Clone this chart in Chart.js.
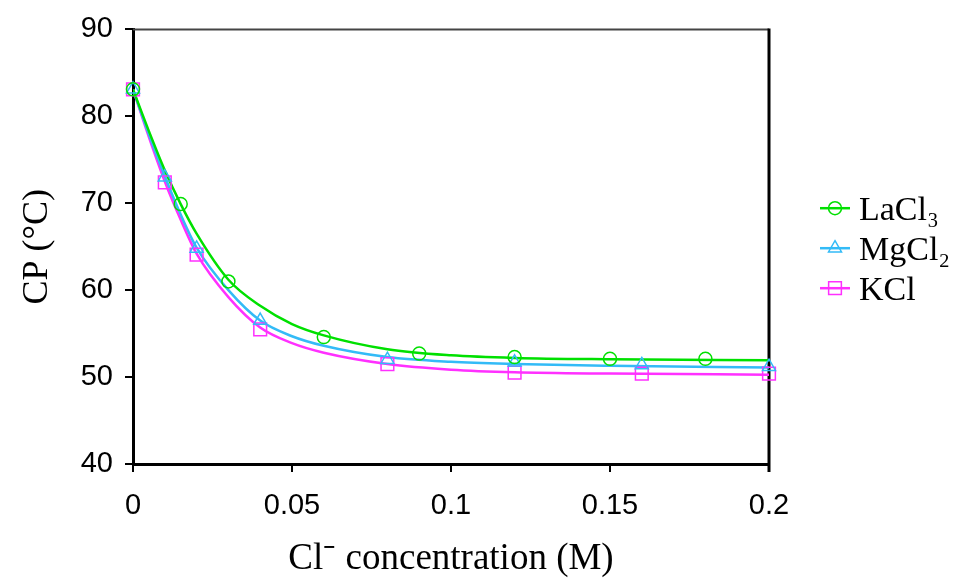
<!DOCTYPE html>
<html>
<head>
<meta charset="utf-8">
<script src="https://cdn.jsdelivr.net/npm/chart.js@4.4.1/dist/chart.umd.min.js"></script>
<style>
  html, body { margin: 0; padding: 0; background: #fff; }
</style>
</head>
<body>
<canvas id="chart" width="962" height="581"></canvas>
<script>
const SERIES_NAMES = ["LaCl₃", "MgCl₂", "KCl"];
const COLORS = ["#00e000", "#33bbf7", "#ff30ff"];
const MARKERS = ["circle", "triangle", "rect"];
const MARKER_SIZE = [6.5, 7.5, 9];

// measured points
const LACL3_X = [0, 0.015, 0.03, 0.06, 0.09, 0.12, 0.15, 0.18];
const LACL3_Y = [83.1, 69.9, 61.0, 54.6, 52.7, 52.3, 52.1, 52.1];
const MGCL2_X = [0, 0.01, 0.02, 0.04, 0.08, 0.12, 0.16, 0.2];
const MGCL2_Y = [83.1, 73.0, 64.8, 56.5, 52.0, 51.7, 51.4, 51.2];
const KCL_X = [0, 0.01, 0.02, 0.04, 0.08, 0.12, 0.16, 0.2];
const KCL_Y = [83.1, 72.4, 64.1, 55.5, 51.5, 50.5, 50.4, 50.4];

// fitted curves
const CURVE_X = [0, 0.005, 0.01, 0.015, 0.02, 0.03, 0.04, 0.05, 0.06, 0.08, 0.1, 0.12, 0.15, 0.2];
const LACL3_FIT = [83.1, 78.3, 73.8, 69.9, 66.5, 61.2, 58.2, 56.1, 54.8, 53.2, 52.5, 52.2, 52.05, 51.95];
const MGCL2_FIT = [83.1, 77.9, 73.1, 68.7, 64.9, 60.0, 56.5, 54.7, 53.6, 52.3, 51.75, 51.5, 51.3, 51.1];
const KCL_FIT = [83.1, 77.6, 72.5, 68.1, 64.2, 59.2, 55.7, 53.9, 52.8, 51.5, 50.85, 50.55, 50.4, 50.28];

const X_TICKS = [0, 0.05, 0.1, 0.15, 0.2];
const Y_TICKS = [40, 50, 60, 70, 80, 90];

const toPts = (xs, ys) => xs.map((x, i) => ({ x: x, y: ys[i] }));

const pointSets = [[LACL3_X, LACL3_Y], [MGCL2_X, MGCL2_Y], [KCL_X, KCL_Y]].map(([xs, ys], i) => ({
  label: SERIES_NAMES[i],
  data: toPts(xs, ys),
  showLine: false,
  pointStyle: MARKERS[i],
  pointRadius: MARKER_SIZE[i],
  pointHoverRadius: MARKER_SIZE[i],
  pointBorderColor: COLORS[i],
  pointBackgroundColor: "rgba(0,0,0,0)",
  pointBorderWidth: 1.5,
  clip: false
}));

const curveSets = [LACL3_FIT, MGCL2_FIT, KCL_FIT].map((ys, i) => ({
  label: SERIES_NAMES[i] + " fit",
  data: toPts(CURVE_X, ys),
  showLine: true,
  borderColor: COLORS[i],
  borderWidth: 2.5,
  pointRadius: 0,
  cubicInterpolationMode: "monotone",
  fill: false
}));

const boxPlugin = {
  id: "box",
  beforeDatasetsDraw(chart) {
    const { ctx, chartArea: a } = chart;
    ctx.save();
    ctx.strokeStyle = "#444";
    ctx.lineWidth = 2;
    ctx.beginPath();
    ctx.moveTo(a.left, a.top);
    ctx.lineTo(a.right, a.top);
    ctx.stroke();
    ctx.strokeStyle = "#000";
    ctx.lineWidth = 3;
    ctx.beginPath();
    ctx.moveTo(a.right, a.top - 1);
    ctx.lineTo(a.right, a.bottom + 8);
    ctx.stroke();
    ctx.restore();
  }
};

const legendPlugin = {
  id: "sideLegend",
  afterDraw(chart) {
    const { ctx, chartArea: a } = chart;
    const mid = (a.top + a.bottom) / 2;
    ctx.save();
    SERIES_NAMES.forEach((name, i) => {
      const y = mid - 38.5 + i * 40;
      ctx.strokeStyle = COLORS[i];
      ctx.lineWidth = 2.5;
      ctx.beginPath();
      ctx.moveTo(a.right + 51, y);
      ctx.lineTo(a.right + 81, y);
      ctx.stroke();
      ctx.fillStyle = "rgba(0,0,0,0)";
      ctx.lineWidth = 1.5;
      Chart.helpers.drawPoint(ctx, { pointStyle: MARKERS[i], radius: MARKER_SIZE[i], rotation: 0, borderWidth: 1.5 }, a.right + 66, y);
      ctx.fillStyle = "#000";
      ctx.font = '34px "Liberation Serif", "Times New Roman", serif';
      ctx.textBaseline = "alphabetic";
      ctx.fillText(name, a.right + 90, y + 12);
    });
    ctx.restore();
  }
};

new Chart(document.getElementById("chart").getContext("2d"), {
  type: "scatter",
  data: { datasets: [...pointSets, ...curveSets] },
  options: {
    responsive: false,
    animation: false,
    layout: { padding: { top: 27, right: 193, left: 0, bottom: 0 } },
    plugins: { legend: { display: false }, tooltip: { enabled: false } },
    scales: {
      x: {
        type: "linear",
        min: 0,
        max: 0.2,
        afterBuildTicks: (s) => { s.ticks = X_TICKS.map(v => ({ value: v })); },
        afterFit: (s) => { s.height = 117; },
        ticks: {
          color: "#000",
          font: { family: '"Liberation Sans", Arial, sans-serif', size: 29 },
          padding: 17,
          maxRotation: 0,
          autoSkip: false,
          callback: (v) => String(v)
        },
        grid: { drawOnChartArea: false, drawTicks: true, tickLength: 8, color: "#000", lineWidth: 2 },
        border: { display: true, color: "#000", width: 3 },
        title: {
          display: true,
          text: "Cl⁻ concentration (M)",
          color: "#000",
          font: { family: '"Liberation Serif", "Times New Roman", serif', size: 37 },
          padding: { top: 0, bottom: 0 }
        }
      },
      y: {
        type: "linear",
        min: 40,
        max: 90,
        afterBuildTicks: (s) => { s.ticks = Y_TICKS.map(v => ({ value: v })); },
        afterFit: (s) => { s.width = 133; },
        ticks: {
          color: "#000",
          font: { family: '"Liberation Sans", Arial, sans-serif', size: 29 },
          padding: 12
        },
        grid: { drawOnChartArea: false, drawTicks: true, tickLength: 8, color: "#000", lineWidth: 2 },
        border: { display: true, color: "#000", width: 3 },
        title: {
          display: true,
          text: "CP (°C)",
          color: "#000",
          font: { family: '"Liberation Serif", "Times New Roman", serif', size: 36 },
          padding: { top: 16, bottom: 0 }
        }
      }
    }
  },
  plugins: [boxPlugin, legendPlugin]
});
</script>
</body>
</html>
